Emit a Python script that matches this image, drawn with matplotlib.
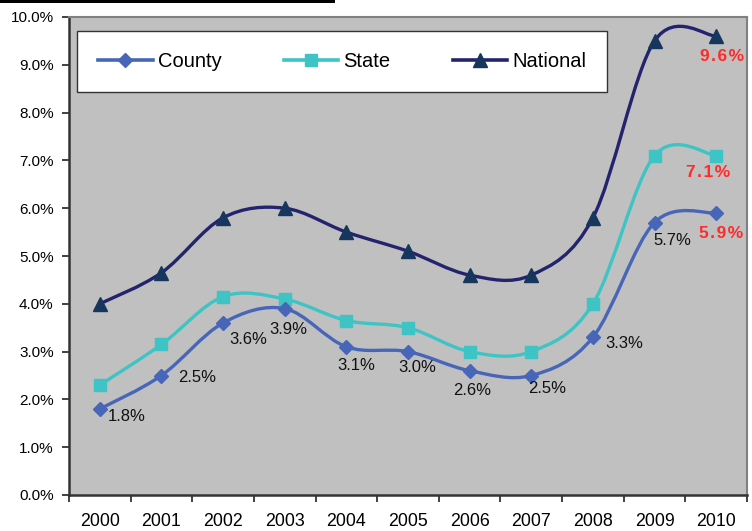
import matplotlib
matplotlib.use('Agg')
import matplotlib.pyplot as plt
from matplotlib.path import Path
from matplotlib.patches import PathPatch, Rectangle
from matplotlib.lines import Line2D
import numpy as np

plt.rcParams['font.family'] = ['Liberation Sans', 'DejaVu Sans']

# data
years = ['2000', '2001', '2002', '2003', '2004', '2005', '2006', '2007', '2008', '2009', '2010']
county = [1.8, 2.5, 3.6, 3.9, 3.1, 3.0, 2.6, 2.5, 3.3, 5.7, 5.9]
state = [2.3, 3.15, 4.15, 4.1, 3.65, 3.5, 3.0, 3.0, 4.0, 7.1, 7.1]
national = [4.0, 4.65, 5.8, 6.0, 5.5, 5.1, 4.6, 4.6, 5.8, 9.5, 9.6]

county_labels = ['1.8%', '2.5%', '3.6%', '3.9%', '3.1%', '3.0%', '2.6%', '2.5%', '3.3%', '5.7%']
# label offsets in pixels (dx right, dy down)
county_off = [(27, 8), (36, 2), (25, 17), (4, 21), (10, 19), (9, 16), (2, 20), (16, 13), (31, 6), (18, 18)]

c_county = '#4766B8'
c_state = '#3EC4C4'
c_nat_line = '#23236E'
c_nat_mark = '#17365D'


def smooth_path(xs, ys):
    # excel-style smoothed line (bezier through the points)
    p = np.column_stack([xs, ys]).astype(float)
    n = len(p)
    verts = [p[0]]
    codes = [Path.MOVETO]
    for i in range(n - 1):
        prev = p[i - 1] if i > 0 else p[i]
        nxt = p[i + 2] if i + 2 < n else p[i + 1]
        c1 = p[i] + (p[i + 1] - prev) / 6.0
        c2 = p[i + 1] - (nxt - p[i]) / 6.0
        verts += [c1, c2, p[i + 1]]
        codes += [Path.CURVE4] * 3
    return Path(verts, codes)


fig = plt.figure(figsize=(7.52, 5.31), dpi=100)
ax = fig.add_axes([69 / 752, 36 / 531, 678 / 752, 478 / 531])
ax.set_facecolor('#C0C0C0')

x = np.arange(len(years)) + 0.5

series = [
    (national, c_nat_line, c_nat_mark, '^', 9.5, 'National'),
    (state, c_state, c_state, 's', 9, 'State'),
    (county, c_county, c_county, 'D', 7.5, 'County'),
]
handles = {}
for vals, lc, mc, mk, ms, name in series:
    ax.add_patch(PathPatch(smooth_path(x, vals), facecolor='none', edgecolor=lc,
                           lw=2.4, capstyle='round', joinstyle='round', zorder=3))
    ax.plot(x, vals, linestyle='none', marker=mk, markersize=ms, color=mc, zorder=4)
    handles[name] = Line2D([], [], color=lc, lw=2.6, marker=mk, markersize=ms,
                           markerfacecolor=mc, markeredgecolor=mc)

# data labels
for xi, v, lab, (dx, dy) in zip(x, county, county_labels, county_off):
    ax.annotate(lab, (xi, v), xytext=(dx * 0.72, -dy * 0.72), textcoords='offset points',
                ha='center', va='center', fontsize=12, color='#111111', zorder=5)

# last-year labels in bold red, letter spaced
red_labels = [(county[-1], '5.9%', (5, 21)), (state[-1], '7.1%', (-8, 17)), (national[-1], '9.6%', (6, 20))]
for v, lab, (dx, dy) in red_labels:
    ax.annotate('\u200a'.join(lab), (x[-1], v), xytext=(dx * 0.72, -dy * 0.72), textcoords='offset points',
                ha='center', va='center', fontsize=12.5, fontweight='bold', color='#FF2A2A', zorder=5)

ax.set_xlim(0, len(years))
ax.set_ylim(0, 10)
ax.set_xticks(np.arange(len(years) + 1))
ax.set_xticklabels([])
ax.set_xticks(x, minor=True)
ax.set_xticklabels(years, minor=True, fontsize=12.8)
ax.tick_params(axis='x', which='major', direction='out', length=5, width=1.3, color='#333333')
ax.tick_params(axis='x', which='minor', length=0, pad=13)
ax.set_yticks(np.arange(0, 11))
ax.set_yticklabels(['%.1f%%' % v for v in range(11)], fontsize=11)
ax.tick_params(axis='y', direction='out', length=5, width=1.3, color='#333333', pad=6)

for s in ['left', 'bottom']:
    ax.spines[s].set_color('#333333')
    ax.spines[s].set_linewidth(1.8)
for s in ['top', 'right']:
    ax.spines[s].set_color('#808080')
    ax.spines[s].set_linewidth(1.5)

leg = ax.legend([handles['County'], handles['State'], handles['National']],
                ['County', 'State', 'National'], ncol=3, loc='upper left',
                bbox_to_anchor=(8 / 678, 464 / 478), borderaxespad=0,
                fontsize=14.5, frameon=True, fancybox=False, framealpha=1,
                edgecolor='#333333', handlelength=2.7, handletextpad=0.25,
                columnspacing=3.1, borderpad=1.05)
leg.get_frame().set_linewidth(1.0)
leg.set_zorder(6)

# black bar at top left
fig.add_artist(Rectangle((0, 528 / 531), 335 / 752, 3 / 531, transform=fig.transFigure,
                         facecolor='black', edgecolor='none'))

fig.savefig('out.png', dpi=100)
